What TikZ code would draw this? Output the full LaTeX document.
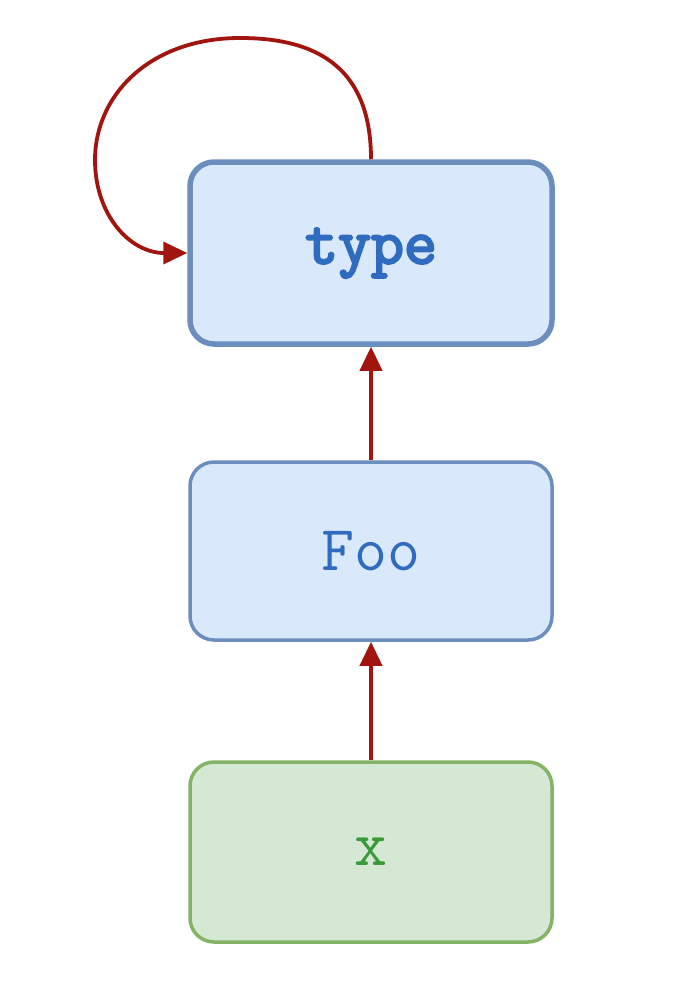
\documentclass[tikz,border=0pt]{standalone}
\usepackage{fontspec}
\newfontfamily\boldmono{Latin Modern Mono}[FakeBold=3.5]
\usepackage{tikz}
\usetikzlibrary{arrows.meta}
\definecolor{bluefill}{HTML}{DAE8FC}
\definecolor{blueline}{HTML}{6C8EBF}
\definecolor{bluetext}{HTML}{2F6BBF}
\definecolor{greenfill}{HTML}{D5E8D4}
\definecolor{greenline}{HTML}{82B366}
\definecolor{greentext}{HTML}{3A9A3A}
\definecolor{arrowred}{HTML}{A2140F}

\begin{document}
\begin{tikzpicture}[x=1pt,y=-1pt,
    box/.style={draw, rounded corners=24pt, minimum width=362pt, minimum height=180pt,
      font=\fontsize{64}{66}\selectfont\ttfamily, inner sep=0pt},
    bluebox/.style={box, fill=bluefill, draw=blueline, line width=3.5pt, text=bluetext},
    greenbox/.style={box, fill=greenfill, draw=greenline, line width=3.5pt, text=greentext},
    link/.style={draw=arrowred, line width=3.8pt, -{Triangle[length=24pt,width=22pt]}}]
      \useasboundingbox (0,0) rectangle (680,998);
      \node[bluebox, line width=5.5pt, minimum height=182pt] (type) at (371,253) {\boldmono type};
      \node[bluebox, minimum height=178pt] (foo) at (371,551) {Foo};
      \node[greenbox] (x) at (371,852) {x};
      \draw[link] (x) to (foo);
      \draw[link] (foo) to (type);
      \draw[link] (type.north) .. controls (371,70) and (320,38) .. (240,38)
        .. controls (150,38) and (95,95) .. (95,160)
        .. controls (95,215) and (130,253) .. (type.west);
    \end{tikzpicture}
\end{document}
